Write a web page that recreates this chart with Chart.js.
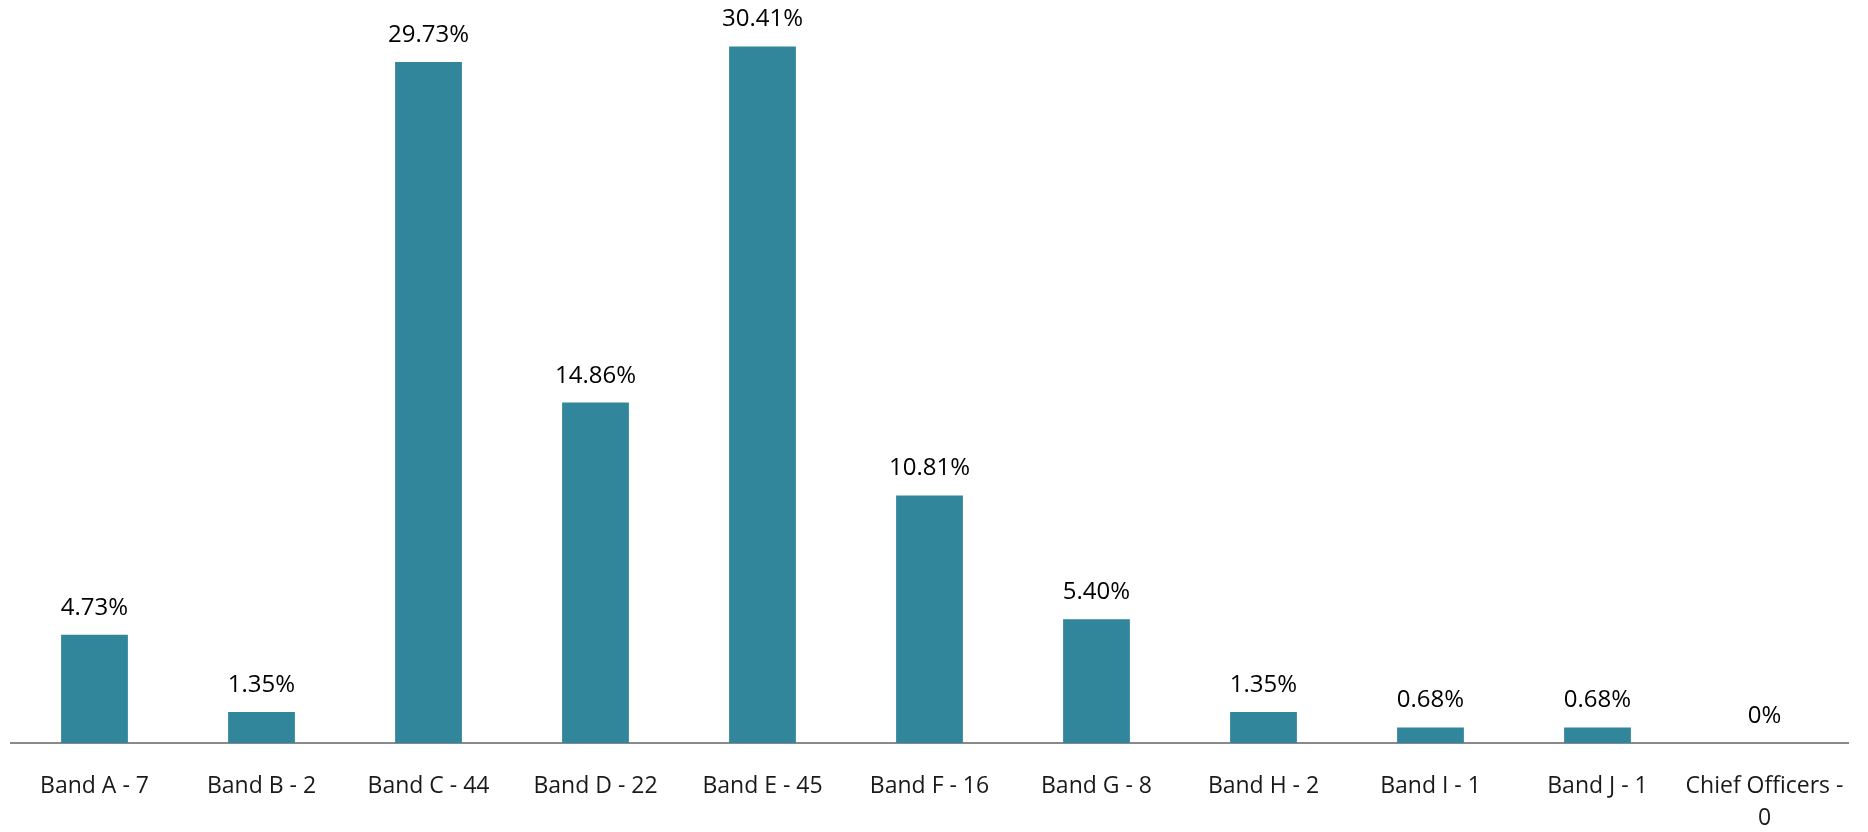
<!DOCTYPE html>
<html>
<head>
<meta charset="utf-8">
<script src="https://cdn.jsdelivr.net/npm/chart.js@4.4.1/dist/chart.umd.min.js"></script>
<style>
    html, body { margin: 0; padding: 0; background: #fff; }
    canvas { display: block; }
</style>
</head>
<body>
<canvas id="chart" width="1868" height="832"></canvas>
<script>
const bands = ["Band A", "Band B", "Band C", "Band D", "Band E", "Band F", "Band G", "Band H", "Band I", "Band J", "Chief Officers"];
const headcounts = [7, 2, 44, 22, 45, 16, 8, 2, 1, 1, 0];
const percentages = [4.73, 1.35, 29.73, 14.86, 30.41, 10.81, 5.40, 1.35, 0.68, 0.68, 0];

const chartLabels = [];
for (let i = 0; i < bands.length; i++) {
    const text = bands[i] + " - " + headcounts[i];
    // the long one wraps onto a second line
    if (bands[i] === "Chief Officers") {
        chartLabels.push([bands[i] + " -", String(headcounts[i])]);
    } else {
        chartLabels.push(text);
    }
}

const fontFamily = "'Open Sans', 'Noto Sans', sans-serif";

const valueLabels = {
    id: "valueLabels",
    afterDatasetsDraw(chart) {
        const ctx = chart.ctx;
        const meta = chart.getDatasetMeta(0);
        ctx.save();
        ctx.font = "24px " + fontFamily;
        ctx.fillStyle = "#000";
        ctx.textAlign = "center";
        ctx.textBaseline = "alphabetic";
        meta.data.forEach((bar, i) => {
            const v = percentages[i];
            const text = v === 0 ? "0%" : v.toFixed(2) + "%";
            ctx.fillText(text, bar.x, bar.y - 20);
        });
        ctx.restore();
    }
};

const chartCanvas = document.getElementById("chart");
const chart = new Chart(chartCanvas.getContext("2d"), {
    type: "bar",
    data: {
        labels: chartLabels,
        datasets: [{
            data: percentages,
            backgroundColor: "#32869c",
            borderWidth: 0,
            categoryPercentage: 1,
            barPercentage: 0.4,
        }],
    },
    options: {
        responsive: false,
        animation: false,
        layout: { padding: { top: 10, left: 11, right: 20, bottom: 0 } },
        plugins: {
            legend: { display: false },
            tooltip: { enabled: false },
        },
        scales: {
            x: {
                grid: { display: false },
                border: { display: true, color: "#898989", width: 2 },
                ticks: {
                    color: "#1a1a1a",
                    padding: 19,
                    maxRotation: 0,
                    autoSkip: false,
                    font: { family: fontFamily, size: 23, lineHeight: 1.4 },
                },
                // keep the axis band a fixed height so the baseline sits low
                afterFit(scale) {
                    scale.height = 89;
                },
            },
            y: {
                display: false,
                min: 0,
                max: 32,
            },
        },
    },
    plugins: [valueLabels],
});
</script>
</body>
</html>
